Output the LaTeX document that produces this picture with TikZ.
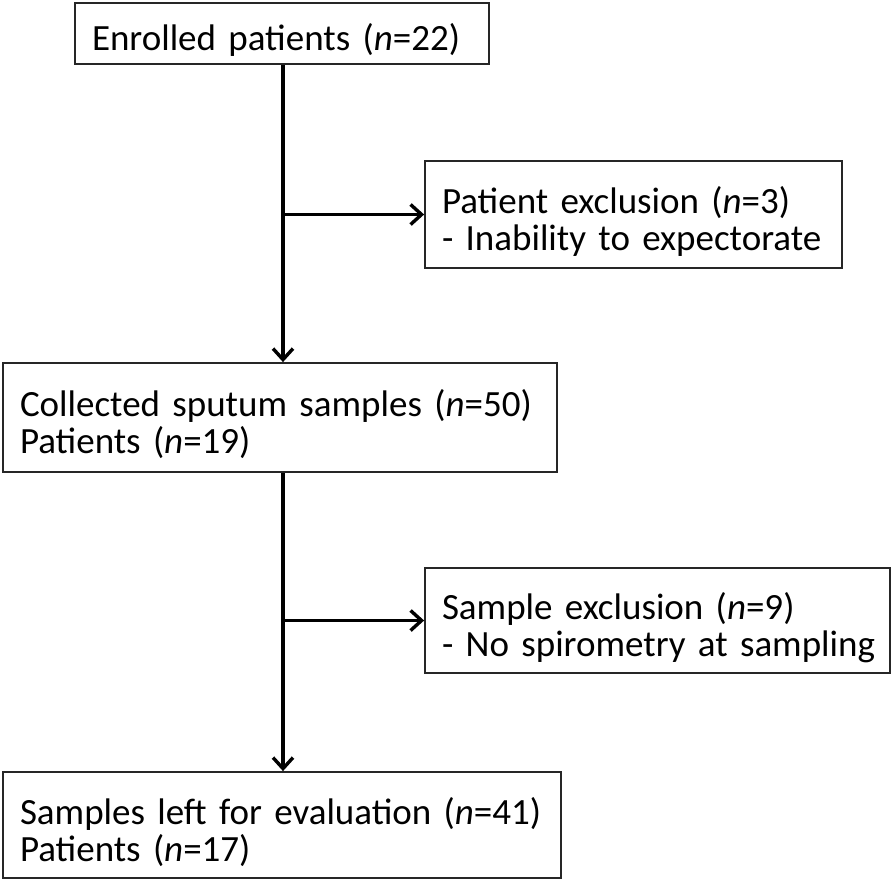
\documentclass[tikz,border=0pt]{standalone}
\usepackage{fontspec}
\setmainfont{Carlito}
\usetikzlibrary{arrows.meta}
\newcommand{\topstrut}{\rule{0pt}{1.1em}}
\tikzset{
  box/.style={draw=black!85, line width=1.8pt, rectangle, align=left,
    inner xsep=17pt, inner ysep=0pt, font=\fontsize{37}{37}\selectfont},
  conn/.style={line width=3.2pt, -{Straight Barb[length=11pt,width=20pt,line width=3.4pt]}},
}
\begin{document}
\begin{tikzpicture}[x=1pt,y=-1pt]
\useasboundingbox[fill=white] (0,0) rectangle (894,884);
\coordinate (v) at (283,0);
\node[box, text width=380pt, minimum height=61pt] (b1) at (282,33.5)
  {\topstrut\mbox{Enrolled patients (\textit{n}=22)}};
\node[box, text width=383pt, minimum height=107pt] (b2) at (633.5,214.5)
  {\topstrut\mbox{Patient exclusion (\textit{n}=3)}\\\mbox{- Inability to expectorate}};
\node[box, text width=520pt, minimum height=109pt] (b3) at (280,417.5)
  {\topstrut\mbox{Collected sputum samples (\textit{n}=50)}\\\mbox{Patients (\textit{n}=19)}};
\node[box, text width=431pt, minimum height=105pt] (b4) at (657.5,620.5)
  {\topstrut\mbox{Sample exclusion (\textit{n}=9)}\\\mbox{- No spirometry at sampling}};
\node[box, text width=524pt, minimum height=106pt] (b5) at (282,825)
  {\topstrut\mbox{Samples left for evaluation (\textit{n}=41)}\\\mbox{Patients (\textit{n}=17)}};
\draw[conn] (v |- b1.south) -- (v |- b3.north);
\draw[conn] (v |- b2.west) -- (b2.west);
\draw[conn] (v |- b3.south) -- (v |- b5.north);
\draw[conn] (v |- b4.west) -- (b4.west);
\end{tikzpicture}
\end{document}
